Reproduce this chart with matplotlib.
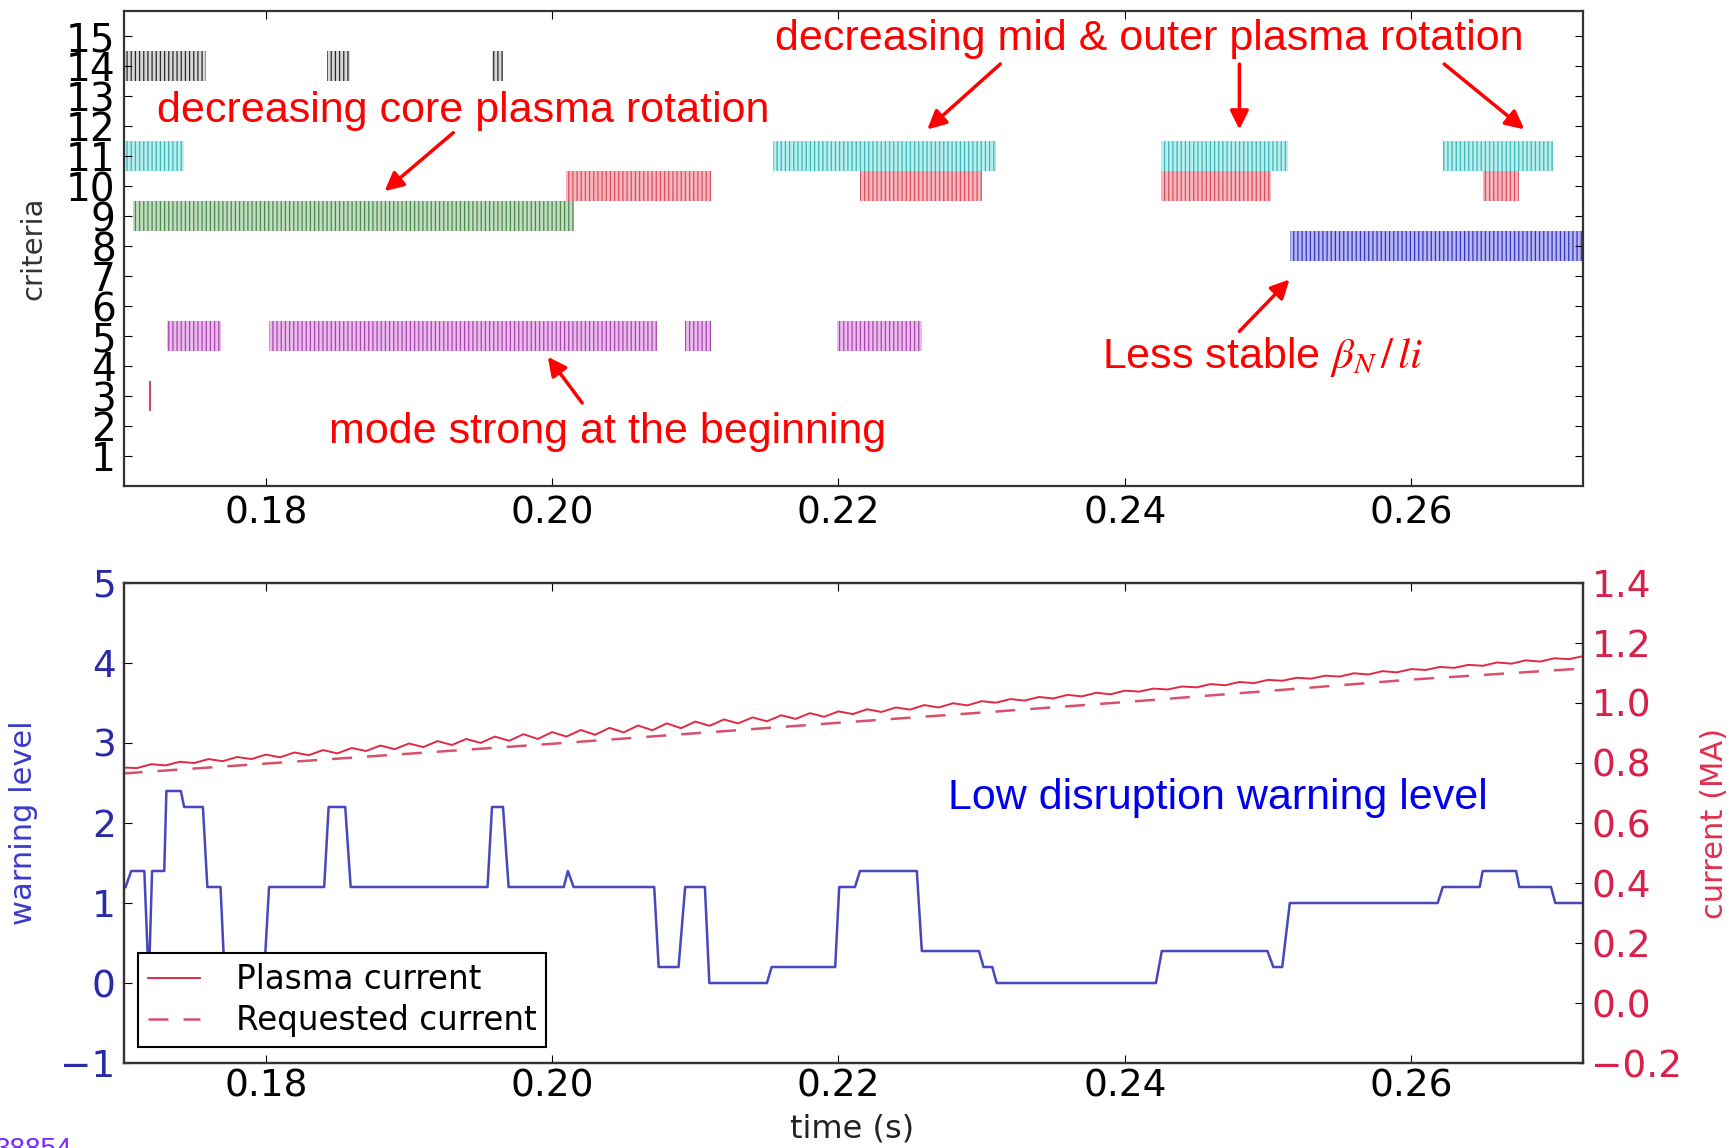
import numpy as np
import matplotlib.pyplot as plt
from matplotlib.ticker import FormatStrFormatter, FuncFormatter

plt.rcParams['font.family'] = 'DejaVu Sans'
plt.rcParams['mathtext.fontset'] = 'stix'
plt.rcParams['hatch.linewidth'] = 0.9

# top panel: time windows (s) in which each criterion fired
crit14 = [(0.1702, 0.1758), (0.1843, 0.1859), (0.1958, 0.1966)]
crit11 = [(0.1702, 0.1743), (0.2154, 0.2310), (0.2425, 0.2514), (0.2622, 0.2699)]
crit10 = [(0.2010, 0.2111), (0.2215, 0.2300), (0.2425, 0.2502), (0.2650, 0.2675)]
crit9 = [(0.1707, 0.2015)]
crit8 = [(0.2515, 0.2720)]
crit5 = [(0.1731, 0.1769), (0.1802, 0.2073), (0.2093, 0.2111), (0.2199, 0.2258)]
crit3_time = 0.1719

# bottom panel: warning level
warn_t = [0.17021, 0.17060, 0.17152, 0.17183, 0.17206, 0.17291, 0.17306, 0.17407,
          0.17430, 0.17561, 0.17592, 0.17684, 0.17715, 0.17985, 0.18023, 0.18408,
          0.18439, 0.18555, 0.18593, 0.19549, 0.19580, 0.19657, 0.19696, 0.20081,
          0.20110, 0.20150, 0.20713, 0.20744, 0.20883, 0.20929, 0.21067, 0.21098,
          0.21500, 0.21533, 0.21977, 0.22005, 0.22115, 0.22150, 0.22547, 0.22582,
          0.22981, 0.23013, 0.23074, 0.23105, 0.24217, 0.24258, 0.24996, 0.25037,
          0.25099, 0.25152, 0.26185, 0.26220, 0.26478, 0.26499, 0.26732, 0.26755,
          0.26976, 0.27006, 0.27194]
warn_level = [1.2, 1.4, 1.4, 0.0, 1.4, 1.4, 2.4, 2.4, 2.2, 2.2, 1.2, 1.2, 0.0, 0.0,
              1.2, 1.2, 2.2, 2.2, 1.2, 1.2, 2.2, 2.2, 1.2, 1.2, 1.4, 1.2, 1.2, 0.2,
              0.2, 1.2, 1.2, 0.0, 0.0, 0.2, 0.2, 1.2, 1.2, 1.4, 1.4, 0.4, 0.4, 0.2,
              0.2, 0.0, 0.0, 0.4, 0.4, 0.2, 0.2, 1.0, 1.0, 1.2, 1.2, 1.4, 1.4, 1.2,
              1.2, 1.0, 1.0]

# plasma current (MA), sampled every 1 ms from 0.170 s
ip = [0.785, 0.783, 0.796, 0.792, 0.804, 0.800, 0.813, 0.806, 0.820, 0.813,
      0.828, 0.819, 0.835, 0.826, 0.843, 0.832, 0.850, 0.840, 0.858, 0.846,
      0.865, 0.853, 0.873, 0.860, 0.880, 0.867, 0.888, 0.874, 0.896, 0.880,
      0.903, 0.888, 0.910, 0.894, 0.917, 0.902, 0.925, 0.909, 0.932, 0.916,
      0.938, 0.924, 0.945, 0.932, 0.952, 0.939, 0.959, 0.947, 0.966, 0.954,
      0.972, 0.963, 0.979, 0.970, 0.985, 0.978, 0.993, 0.985, 0.999, 0.992,
      1.006, 1.001, 1.013, 1.008, 1.020, 1.015, 1.027, 1.022, 1.034, 1.029,
      1.041, 1.038, 1.048, 1.045, 1.055, 1.052, 1.063, 1.059, 1.070, 1.066,
      1.077, 1.074, 1.084, 1.081, 1.091, 1.088, 1.099, 1.095, 1.106, 1.102,
      1.113, 1.110, 1.120, 1.117, 1.127, 1.124, 1.135, 1.131, 1.142, 1.138,
      1.149, 1.146, 1.156]
ip_t = np.linspace(0.170, 0.272, len(ip))

req_t = [0.170, 0.180, 0.190, 0.200, 0.210, 0.220, 0.230, 0.240, 0.250, 0.260, 0.272]
req = [0.765, 0.798, 0.831, 0.864, 0.899, 0.934, 0.968, 1.003, 1.040, 1.078, 1.115]

xticks = [0.18, 0.20, 0.22, 0.24, 0.26]

fig = plt.figure(figsize=(17.32, 11.48), dpi=100)
ax1 = fig.add_axes([0.0716, 0.5767, 0.8424, 0.4137])
ax = fig.add_axes([0.0716, 0.0740, 0.8424, 0.4182])

ann_font = dict(family='Liberation Sans', fontsize=31, color='red')
arrow = dict(arrowstyle='-|>', color='red', lw=2.5, mutation_scale=28,
             shrinkA=0, shrinkB=0)

# ---- top: criteria ----
bars = [(14, crit14, '#d8d8d8', '#2a2a2a'),
        (11, crit11, '#b8f0f0', '#3fb5b5'),
        (10, crit10, '#f6b6be', '#d8505e'),
        (9, crit9, '#c0dec0', '#4f874f'),
        (8, crit8, '#b6b6f6', '#3434b4'),
        (5, crit5, '#ecbaf0', '#a448a8')]
for row, spans, fill, line in bars:
    for s, e in spans:
        ax1.barh(row, e - s, left=s, height=1.0, color=fill, edgecolor=line,
                 hatch='||||', linewidth=0)
ax1.vlines(crit3_time, 2.5, 3.5, color='#c84878', lw=1.5)

ax1.set_xlim(0.1701, 0.2720)
ax1.set_ylim(0, 15.85)
ax1.set_yticks(range(1, 16))
ax1.set_xticks(xticks)
ax1.xaxis.set_major_formatter(FormatStrFormatter('%.2f'))
ax1.tick_params(direction='in', top=True, right=True, length=6, labelsize=27)
ax1.tick_params(axis='x', pad=7)
ax1.tick_params(axis='y', pad=6, labelsize=28)

ax1.text(0.1938, 12.53, 'decreasing core plasma rotation', ha='center', va='center', **ann_font)
ax1.annotate('', xy=(0.1883, 9.84), xytext=(0.1931, 11.79), arrowprops=arrow)
ax1.text(0.2417, 14.93, 'decreasing mid & outer plasma rotation', ha='center', va='center', **ann_font)
ax1.annotate('', xy=(0.2262, 11.90), xytext=(0.2313, 14.08), arrowprops=arrow)
ax1.annotate('', xy=(0.2480, 11.90), xytext=(0.2480, 14.08), arrowprops=arrow)
ax1.annotate('', xy=(0.2679, 11.90), xytext=(0.2623, 14.08), arrowprops=arrow)
ax1.text(0.2496, 4.31, r'Less stable $\beta_N\,/\,li$', ha='center', va='center', **ann_font)
ax1.annotate('', xy=(0.2515, 6.89), xytext=(0.2480, 5.16), arrowprops=arrow)
ax1.text(0.2039, 1.81, 'mode strong at the beginning', ha='center', va='center', **ann_font)
ax1.annotate('', xy=(0.1997, 4.31), xytext=(0.2021, 2.77), arrowprops=arrow)

# ---- bottom: warning level and current ----
ax.plot(warn_t, warn_level, color='#4848bb', lw=1.8)
ax.set_xlim(0.1701, 0.2720)
ax.set_ylim(-1, 5)
ax.set_xticks(xticks)
ax.xaxis.set_major_formatter(FormatStrFormatter('%.2f'))
ax.tick_params(direction='in', top=True, length=6, labelsize=27)
ax.tick_params(axis='x', pad=4)
ax.tick_params(axis='y', pad=6, labelcolor='#2a2aa8')
ax.text(0.2465, 2.31, 'Low disruption warning level', ha='center', va='center',
        family='Liberation Sans', fontsize=31, color='#0000ee')

ax2 = ax.twinx()
ax2.plot(ip_t, ip, color='#e02a44', lw=1.4, label='Plasma current')
ax2.plot(req_t, req, color='#d8506c', lw=1.8, dashes=(8, 6), label='Requested current')
ax2.set_ylim(-0.2, 1.4)
ax2.set_yticks([-0.2, 0.0, 0.2, 0.4, 0.6, 0.8, 1.0, 1.2, 1.4])
ax2.yaxis.set_major_formatter(FuncFormatter(lambda v, _: f'{v:.1f}'.replace('-', '\u2212')))
ax2.tick_params(direction='in', length=6, labelsize=27, pad=6, labelcolor='#d8204a')
leg = ax2.legend(loc='lower left', bbox_to_anchor=(0.0096, 0.033), borderaxespad=0,
                 fontsize=23.5, fancybox=False, framealpha=1, edgecolor='black',
                 handlelength=1.6, handletextpad=1.1, borderpad=0.3, labelspacing=0.25)
leg.get_frame().set_linewidth(1.5)

for a in (ax1, ax, ax2):
    for sp in a.spines.values():
        sp.set_linewidth(1.6)
        sp.set_color('#333333')

fig.text(0.019, 0.784, 'criteria', rotation=90, ha='center', va='center', fontsize=21, color='#333333')
fig.text(0.0133, 0.283, 'warning level', rotation=90, ha='center', va='center', fontsize=22, color='#3a3ac8')
fig.text(0.9898, 0.283, 'current (MA)', rotation=90, ha='center', va='center', fontsize=22, color='#e0304e')
fig.text(0.492, 0.0166, 'time (s)', ha='center', va='center', fontsize=23, color='#222222')
fig.text(-0.003, 0.0096, '38854', ha='left', va='top', fontsize=20, color='#7a28ff',
         family='Liberation Sans')

fig.savefig('out.png', dpi=100)
